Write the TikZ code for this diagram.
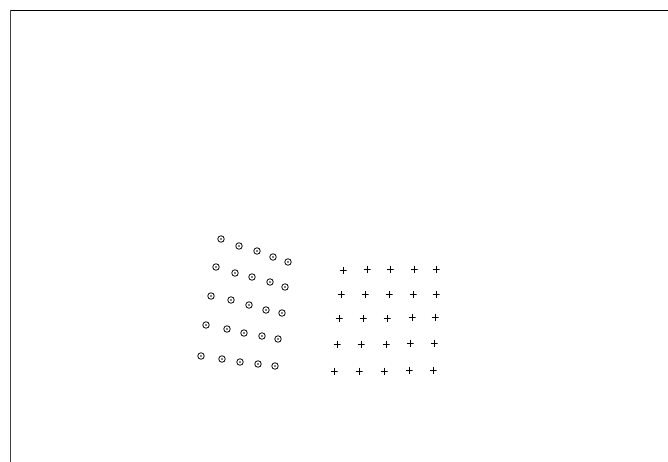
\documentclass[tikz,border=0pt]{standalone}

\tikzset{
  odot/.style={circle, draw, inner sep=0pt, minimum size=6.5pt, line width=0.8pt,
    path picture={\fill (path picture bounding box.center) circle (0.9pt);}},
  pluspt/.style={rectangle, inner sep=0pt, minimum size=7pt,
    path picture={\draw[line width=0.9pt] (path picture bounding box.north) -- (path picture bounding box.south)
      (path picture bounding box.west) -- (path picture bounding box.east);}}
}

\begin{document}
\begin{tikzpicture}[x=1pt,y=-1pt]
\useasboundingbox (0,0) rectangle (668,462);

% axes frame
\coordinate (corner) at (10.5,10.5);
\coordinate (bottom) at (10.5,462);
\coordinate (right) at (668,10.5);
\draw[line width=1pt, black!75] (bottom) -- (corner);
\draw[line width=1.1pt] (corner) -- (right);

% skewed grid of circles
\foreach \x/\y [count=\i] in {221/239,239/246,257/251,273/257,288/262,
    216/267,235/273,252/277,270/282,285/287,
    211/296,231/300,249/305,266/310,282/313,
    206/325,227/329,244/333,262/336,278/339,
    201/356,222/359,240/362,258/364,275/366}
  \node[odot] (c\i) at (\x,\y) {};

% regular grid of plus marks
\foreach \x/\y [count=\i] in {343/270,367/269,390/269,414/269,436/269,
    341/294,365/294,389/294,413/294,436/294,
    339/318,363/318,387/318,412/317,435/317,
    337/344,361/344,386/344,410/343,434/343,
    334/371,359/371,384/371,409/370,433/370}
  \node[pluspt] (p\i) at (\x,\y) {};
\end{tikzpicture}
\end{document}
